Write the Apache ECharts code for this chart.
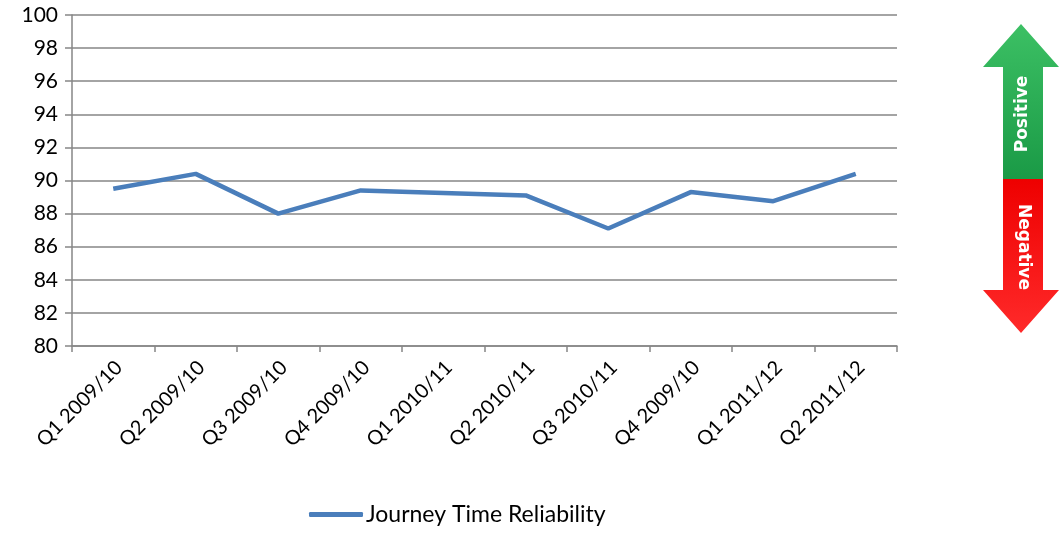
<!DOCTYPE html>
<html>
<head>
<meta charset="utf-8">
<script src="https://cdn.jsdelivr.net/npm/echarts@6/dist/echarts.min.js"></script>
<style>
    html, body { margin: 0; padding: 0; background: #fff; }
    #chart { width: 1059px; height: 533px; }
</style>
</head>
<body>
<div id="chart"></div>
<script>
// 季度标签和数值
const quarters = ['Q1 2009/10', 'Q2 2009/10', 'Q3 2009/10', 'Q4 2009/10', 'Q1 2010/11',
    'Q2 2010/11', 'Q3 2010/11', 'Q4 2009/10', 'Q1 2011/12', 'Q2 2011/12'];
const reliability = [89.5, 90.4, 88.0, 89.4, 89.25, 89.1, 87.1, 89.3, 88.75, 90.4];
const seriesName = 'Journey Time Reliability';

const chart = echarts.init(document.getElementById('chart'));
const font = 'Lato, "Open Sans", sans-serif';

const option = {
    animation: false,
    grid: { left: 72, top: 15, right: 162, bottom: 187 },
    legend: {
        bottom: 2,
        left: 304,
        itemWidth: 54,
        itemHeight: 5,
        itemGap: 4,
        icon: 'roundRect',
        textStyle: { fontFamily: font, fontSize: 23, color: '#000', padding: [0, 0, 0, -2] },
        data: [seriesName]
    },
    xAxis: {
        type: 'category',
        data: quarters,
        boundaryGap: true,
        axisLine: { lineStyle: { color: '#868686', width: 1.5 } },
        axisTick: { show: true, length: 6, lineStyle: { color: '#868686', width: 1.5 } },
        axisLabel: {
            rotate: 45,
            interval: 0,
            margin: 24,
            padding: [0, -8, 0, 0],
            fontFamily: font,
            fontSize: 20,
            color: '#000'
        }
    },
    yAxis: {
        type: 'value',
        min: 80,
        max: 100,
        interval: 2,
        axisLine: { show: true, lineStyle: { color: '#868686', width: 1.5 } },
        axisTick: { show: true, length: 7, lineStyle: { color: '#868686', width: 1.5 } },
        splitLine: { lineStyle: { color: '#868686', width: 1.5 } },
        axisLabel: { fontFamily: font, fontSize: 21, color: '#000', margin: 14 }
    },
    series: [
        {
            name: seriesName,
            type: 'line',
            data: reliability,
            symbol: 'none',
            lineStyle: { color: '#4a7ebb', width: 4.5 },
            itemStyle: { color: '#4a7ebb' }
        }
    ],
    graphic: [
        // 绿色向上箭头
        {
            type: 'polygon',
            shape: { points: [[1021, 24], [1059, 67], [1043, 67], [1043, 179], [1003, 179], [1003, 67], [983, 67]] },
            style: {
                fill: new echarts.graphic.LinearGradient(0, 0, 0, 1, [
                    { offset: 0, color: '#3cc064' },
                    { offset: 1, color: '#1a9a46' }
                ])
            }
        },
        // 红色向下箭头
        {
            type: 'polygon',
            shape: { points: [[1003, 179], [1043, 179], [1043, 290], [1059, 290], [1021, 333], [983, 290], [1003, 290]] },
            style: {
                fill: new echarts.graphic.LinearGradient(0, 0, 0, 1, [
                    { offset: 0, color: '#ee0000' },
                    { offset: 1, color: '#ff2a2a' }
                ])
            }
        },
        {
            type: 'text',
            x: 1023, y: 114,
            rotation: Math.PI / 2,
            style: {
                text: 'Positive', fill: '#fff', font: 'bold 17px "DejaVu Sans", sans-serif',
                align: 'center', verticalAlign: 'middle'
            }
        },
        {
            type: 'text',
            x: 1023, y: 247,
            rotation: -Math.PI / 2,
            style: {
                text: 'Negative', fill: '#fff', font: 'bold 17px "DejaVu Sans", sans-serif',
                align: 'center', verticalAlign: 'middle'
            }
        }
    ]
};
chart.setOption(option);
</script>
</body>
</html>
